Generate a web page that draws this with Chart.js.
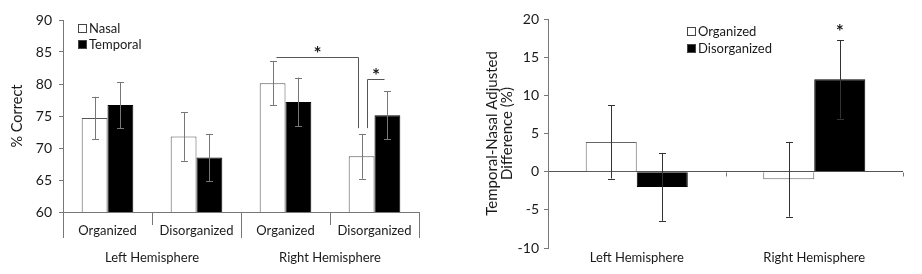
<!DOCTYPE html>
<html>
<head>
<meta charset="utf-8">
<script src="https://cdn.jsdelivr.net/npm/chart.js@4.4.0/dist/chart.umd.min.js"></script>
<style>
  html, body { margin: 0; padding: 0; background: #fff; }
  #wrap { position: relative; width: 922px; height: 274px; }
  #left { position: absolute; left: 0; top: 0; }
  #right { position: absolute; left: 460px; top: 0; }
</style>
</head>
<body>
<div id="wrap">
  <canvas id="left" width="460" height="274"></canvas>
  <canvas id="right" width="462" height="274"></canvas>
</div>
<script>
// left panel: % correct
const conditions = ['Organized', 'Disorganized', 'Organized', 'Disorganized'];
const hemispheres = ['Left Hemisphere', 'Right Hemisphere'];
const nasal = [74.7, 71.8, 80.1, 68.7];
const nasalErr = [3.3, 3.8, 3.45, 3.5];
const temporal = [76.7, 68.5, 77.2, 75.1];
const temporalErr = [3.6, 3.7, 3.8, 3.75];
const pctTicks = [60, 65, 70, 75, 80, 85, 90];

// right panel: temporal - nasal adjusted difference
const diffCats = ['Left Hemisphere', 'Right Hemisphere'];
const organizedDiff = [3.9, -1.0];
const organizedErr = [4.8, 4.9];
const disorganizedDiff = [-2.0, 12.1];
const disorganizedErr = [4.45, 5.15];
const diffTicks = [-10, -5, 0, 5, 10, 15, 20];

const FONT = 'Lato, "Open Sans", sans-serif';
const AXIS = '#777';
const TEXT = '#1a1a1a';

// error bars from dataset.errors
const errorBars = {
  id: 'errorBars',
  afterDatasetsDraw(chart, args, opts) {
    const ctx = chart.ctx;
    const y = chart.scales.y;
    ctx.save();
    ctx.strokeStyle = opts.color || '#333';
    ctx.lineWidth = 1;
    chart.data.datasets.forEach((ds, d) => {
      chart.getDatasetMeta(d).data.forEach((bar, i) => {
        const v = ds.data[i], e = ds.errors[i];
        const x = Math.round(bar.x) + 0.5;
        const top = y.getPixelForValue(v + e), bot = y.getPixelForValue(v - e);
        ctx.beginPath();
        ctx.moveTo(x, top); ctx.lineTo(x, bot);
        ctx.moveTo(x - 3.5, Math.round(top) + 0.5); ctx.lineTo(x + 3.5, Math.round(top) + 0.5);
        ctx.moveTo(x - 3.5, Math.round(bot) + 0.5); ctx.lineTo(x + 3.5, Math.round(bot) + 0.5);
        ctx.stroke();
      });
    });
    ctx.restore();
  }
};

function drawLegend(chart, x0, y0, gap) {
  const ctx = chart.ctx;
  ctx.save();
  ctx.font = '13px ' + FONT;
  ctx.textBaseline = 'middle';
  ctx.textAlign = 'left';
  chart.data.datasets.forEach((ds, i) => {
    const y = Math.round(y0 + i * gap);
    ctx.fillStyle = ds.backgroundColor;
    ctx.fillRect(x0, y - 4, 9, 9);
    ctx.strokeStyle = '#444';
    ctx.lineWidth = 1;
    ctx.strokeRect(x0 + 0.5, y - 3.5, 8, 8);
    ctx.fillStyle = TEXT;
    ctx.fillText(ds.label, x0 + 11, y + 1);
  });
  ctx.restore();
}

function star(ctx, x, y) {
  ctx.save();
  ctx.font = 'bold 19px ' + FONT;
  ctx.fillStyle = TEXT;
  ctx.textAlign = 'center';
  ctx.textBaseline = 'middle';
  ctx.fillText('*', x, y + 4);
  ctx.restore();
}

const leftExtras = {
  id: 'leftExtras',
  afterDraw(chart) {
    const {ctx, chartArea: a, scales: {x, y}} = chart;
    ctx.save();
    ctx.strokeStyle = AXIS;
    ctx.lineWidth = 1;
    // category separators below the axis
    [-0.5, 0.5, 1.5, 2.5, 3.5].forEach((v, k) => {
      const px = Math.round(x.getPixelForValue(v)) + 0.5;
      ctx.beginPath();
      ctx.moveTo(px, a.bottom);
      ctx.lineTo(px, a.bottom + (k % 2 === 0 ? 26 : 13));
      ctx.stroke();
    });
    // hemisphere group labels
    ctx.font = '13px ' + FONT;
    ctx.fillStyle = TEXT;
    ctx.textAlign = 'center';
    ctx.textBaseline = 'middle';
    hemispheres.forEach((h, k) => {
      ctx.fillText(h, x.getPixelForValue(k * 2 + 0.5), a.bottom + 46);
    });
    // significance brackets
    const n = chart.getDatasetMeta(0).data, t = chart.getDatasetMeta(1).data;
    ctx.strokeStyle = '#555';
    const hy = Math.round(y.getPixelForValue(84.2)) + 0.5;
    const ly = y.getPixelForValue(73.1);
    const x1 = Math.round(n[2].x + 3) + 0.5, x2 = Math.round(n[3].x - 4) + 0.5;
    ctx.beginPath();
    ctx.moveTo(x1, hy); ctx.lineTo(x2, hy); ctx.lineTo(x2, ly);
    ctx.stroke();
    const hy2 = Math.round(y.getPixelForValue(80.8)) + 0.5;
    const x3 = Math.round(n[3].x + 5) + 0.5, x4 = Math.round(t[3].x - 3) + 0.5;
    ctx.beginPath();
    ctx.moveTo(x3, ly); ctx.lineTo(x3, hy2); ctx.lineTo(x4, hy2);
    ctx.stroke();
    ctx.restore();
    star(ctx, (x1 + x2) / 2, hy - 8);
    star(ctx, (x3 + x4) / 2, hy2 - 8);
    drawLegend(chart, a.left + 15, a.top + 8, 16);
  }
};

const rightExtras = {
  id: 'rightExtras',
  afterDraw(chart) {
    const {ctx, chartArea: a, scales: {x, y}} = chart;
    ctx.save();
    ctx.strokeStyle = AXIS;
    ctx.lineWidth = 1;
    const zy = Math.round(y.getPixelForValue(0)) + 0.5;
    [0.5, 1.5].forEach(v => {
      const px = Math.round(x.getPixelForValue(v)) + 0.5;
      ctx.beginPath();
      ctx.moveTo(px, zy); ctx.lineTo(px, zy + 4);
      ctx.stroke();
    });
    ctx.restore();
    const bar = chart.getDatasetMeta(1).data[1];
    star(ctx, bar.x, y.getPixelForValue(disorganizedDiff[1] + disorganizedErr[1]) - 12);
    drawLegend(chart, a.left + 139, a.top + 12, 16.7);
  }
};

const tickFont = { family: FONT, size: 14 };

new Chart(document.getElementById('left'), {
  type: 'bar',
  data: {
    labels: conditions,
    datasets: [
      { label: 'Nasal', data: nasal, errors: nasalErr, backgroundColor: '#ffffff', borderColor: '#555', borderWidth: 1 },
      { label: 'Temporal', data: temporal, errors: temporalErr, backgroundColor: '#000000', borderColor: '#000', borderWidth: 1 }
    ]
  },
  options: {
    responsive: false,
    animation: false,
    layout: { padding: { top: 20, right: 41, bottom: 0, left: 0 } },
    datasets: { bar: { categoryPercentage: 0.58, barPercentage: 1.0 } },
    plugins: {
      legend: { display: false },
      tooltip: { enabled: false },
      errorBars: { color: '#777' }
    },
    scales: {
      x: {
        afterFit: s => { s.height = 62; },
        grid: { display: false, drawTicks: false },
        border: { display: true, color: AXIS },
        ticks: { color: TEXT, font: { family: FONT, size: 13 }, padding: 11, maxRotation: 0, autoSkip: false }
      },
      y: {
        min: pctTicks[0], max: pctTicks[pctTicks.length - 1],
        afterFit: s => { s.width = 63; },
        grid: { drawOnChartArea: false, tickLength: 4, color: AXIS },
        border: { display: true, color: AXIS },
        ticks: { stepSize: pctTicks[1] - pctTicks[0], color: TEXT, font: tickFont, padding: 7 },
        title: { display: true, text: '% Correct', color: TEXT, font: { family: FONT, size: 14.5 }, padding: { top: 9, bottom: 0 } }
      }
    }
  },
  plugins: [errorBars, leftExtras]
});

new Chart(document.getElementById('right'), {
  type: 'bar',
  data: {
    labels: diffCats,
    datasets: [
      { label: 'Organized', data: organizedDiff, errors: organizedErr, backgroundColor: '#ffffff', borderColor: '#666', borderWidth: 1 },
      { label: 'Disorganized', data: disorganizedDiff, errors: disorganizedErr, backgroundColor: '#000000', borderColor: '#000', borderWidth: 1 }
    ]
  },
  options: {
    responsive: false,
    animation: false,
    layout: { padding: { top: 19, right: 19, bottom: 0, left: 0 } },
    datasets: { bar: { categoryPercentage: 0.575, barPercentage: 1.0 } },
    plugins: {
      legend: { display: false },
      tooltip: { enabled: false },
      errorBars: { color: '#333' }
    },
    scales: {
      x: {
        afterFit: s => { s.height = 26; },
        grid: { display: false, drawTicks: false },
        border: { display: false },
        ticks: { color: TEXT, font: { family: FONT, size: 13 }, padding: 2, maxRotation: 0 }
      },
      y: {
        min: diffTicks[0], max: diffTicks[diffTicks.length - 1],
        afterFit: s => { s.width = 88; },
        grid: {
          tickLength: 4,
          color: c => (c.tick && c.tick.value === 0 ? '#555' : 'rgba(0,0,0,0)'),
          tickColor: AXIS
        },
        border: { display: true, color: AXIS },
        ticks: { stepSize: diffTicks[1] - diffTicks[0], color: TEXT, font: tickFont, padding: 5 },
        title: {
          display: true,
          text: ['Temporal-Nasal Adjusted', 'Difference (%)'],
          color: TEXT,
          font: { family: FONT, size: 15, lineHeight: 1.0 },
          padding: { top: 24.5, bottom: 0 }
        }
      }
    }
  },
  plugins: [errorBars, rightExtras]
});
</script>
</body>
</html>
